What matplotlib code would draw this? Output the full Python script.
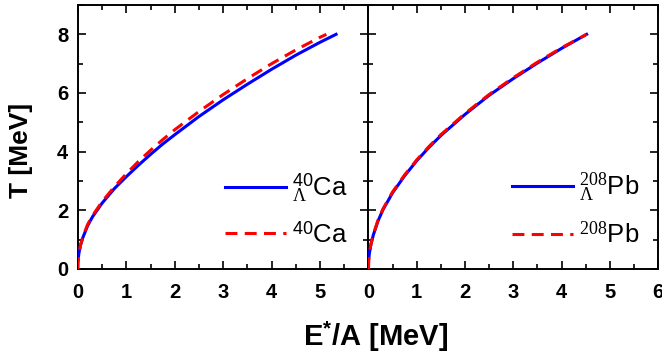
import numpy as np
import matplotlib
matplotlib.use("Agg")
import matplotlib.pyplot as plt
from matplotlib.ticker import MultipleLocator

plt.rcParams['font.family'] = ['Liberation Sans', 'DejaVu Sans']
plt.rcParams['mathtext.fontset'] = 'custom'
plt.rcParams['mathtext.rm'] = 'Liberation Serif'
plt.rcParams['mathtext.sf'] = 'Liberation Sans'
plt.rcParams['mathtext.it'] = 'Liberation Serif:italic'
plt.rcParams['mathtext.bf'] = 'Liberation Sans:bold'

# left panel: 40Ca
e_ca_hyp = [0.0, 0.02, 0.05, 0.1, 0.2, 0.3, 0.5, 0.75, 1.0, 1.25, 1.5, 1.75,
            2.0, 2.5, 3.0, 3.5, 4.0, 4.5, 5.0, 5.33]
t_ca_hyp = [0.3, 0.55, 0.8, 1.07, 1.48, 1.78, 2.25, 2.74, 3.15, 3.54, 3.91, 4.26,
            4.58, 5.2, 5.77, 6.3, 6.81, 7.29, 7.73, 8.0]
e_ca = [0.0, 0.005, 0.02, 0.05, 0.1, 0.2, 0.3, 0.5, 0.75, 1.0, 1.25, 1.5, 1.75,
        2.0, 2.5, 3.0, 3.5, 4.0, 4.5, 5.0, 5.13]
t_ca = [0.0, 0.27, 0.52, 0.8, 1.1, 1.52, 1.82, 2.3, 2.8, 3.25, 3.67, 4.05, 4.41,
        4.75, 5.37, 5.95, 6.49, 7.0, 7.47, 7.9, 8.0]

# right panel: 208Pb
e_pb_hyp = [0.0, 0.02, 0.05, 0.1, 0.2, 0.3, 0.5, 0.75, 1.0, 1.25, 1.5,
            2.0, 2.5, 3.0, 3.5, 4.0, 4.52]
t_pb_hyp = [0.3, 0.55, 0.83, 1.16, 1.65, 2.02, 2.6, 3.18, 3.69, 4.14, 4.55,
            5.27, 5.92, 6.49, 7.02, 7.52, 8.0]
e_pb = [0.0, 0.005, 0.02, 0.05, 0.1, 0.2, 0.3, 0.5, 0.75, 1.0, 1.25, 1.5,
        2.0, 2.5, 3.0, 3.5, 4.0, 4.52]
t_pb = [0.0, 0.27, 0.55, 0.85, 1.18, 1.68, 2.05, 2.63, 3.21, 3.72, 4.17, 4.58,
        5.3, 5.95, 6.52, 7.05, 7.54, 8.0]

labels_left = [r'$^{\mathsf{40}}_{\Lambda}$Ca', r'$^{\mathsf{40}}$Ca']
labels_right = [r'$^{\mathrm{208}}_{\Lambda}$Pb', r'$^{\mathrm{208}}$Pb']

fig = plt.figure(figsize=(6.62, 3.58), dpi=100)
ax1 = fig.add_axes([78 / 662, 1 - 269 / 358, 290.5 / 662, 264 / 358])
ax2 = fig.add_axes([368.5 / 662, 1 - 269 / 358, 289.5 / 662, 264 / 358])

blue = '#0000ff'
red = '#ff0000'

for ax, (eh, th, e, t), labs, xa in [
        (ax1, (e_ca_hyp, t_ca_hyp, e_ca, t_ca), labels_left, 0.505),
        (ax2, (e_pb_hyp, t_pb_hyp, e_pb, t_pb), labels_right, 0.495)]:
    ax.plot(eh, th, color=blue, lw=2.2, label=labs[0], zorder=3)
    ax.plot(e, t, color=red, lw=2.2, ls=(0, (3.9, 2.4)), label=labs[1], zorder=4)
    ax.set_xlim(0, 6)
    ax.set_ylim(0, 9)
    ax.xaxis.set_major_locator(MultipleLocator(1))
    ax.xaxis.set_minor_locator(MultipleLocator(0.5))
    ax.yaxis.set_major_locator(MultipleLocator(2))
    ax.yaxis.set_minor_locator(MultipleLocator(1))
    ax.tick_params(which='both', direction='in', top=True, right=True,
                   width=1.2, labelsize=14.5)
    ax.tick_params(axis='x', pad=10)
    ax.tick_params(axis='y', pad=7)
    ax.tick_params(which='major', length=6)
    ax.tick_params(which='minor', length=3.5)
    for lab in ax.get_xticklabels() + ax.get_yticklabels():
        lab.set_fontweight('bold')
    for sp in ax.spines.values():
        sp.set_linewidth(1.4)
    ax.legend(loc='center left', bbox_to_anchor=(xa, 0.225),
              frameon=False, fontsize=18.5, handlelength=2.4,
              handletextpad=0.22, borderpad=0, borderaxespad=0,
              labelspacing=0.68)

ax1.set_xticks([0, 1, 2, 3, 4, 5])
ax1.set_xticklabels(['0', '1', '2', '3', '4', '5'], fontweight='bold')
ax2.set_yticklabels([])

fig.text(21 / 662, 1 - 150 / 358, 'T [MeV]', fontsize=19, fontweight='bold',
         rotation=90, ha='center', va='center')
fig.text(376 / 662, 1 - 337 / 358, r'E$^{\mathbf{*}}$/A [MeV]', fontsize=21,
         fontweight='bold', ha='center', va='center')

fig.savefig('out.png', dpi=100)
